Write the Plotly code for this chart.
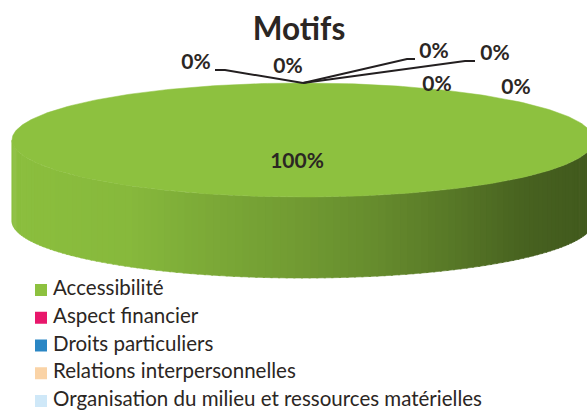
import numpy as np
import plotly.graph_objects as go

# ---- data -------------------------------------------------------------
categories = [
    "Accessibilité",
    "Aspect financier",
    "Droits particuliers",
    "Relations interpersonnelles",
    "Organisation du milieu et ressources matérielles",
    "Soins et services dispensés",
    "Autre",
]
values = [100, 0, 0, 0, 0, 0, 0]
colors = ["#8DC13F", "#E8176B", "#2A86C4", "#FAD3A6", "#CFE8F8", "#F4A53A", "#9B9B9B"]
title_text = "Motifs"

# ---- layout of the drawing (pixel-like data space) --------------------
W, H = 587, 413
CX, CY, RX, RY, DEPTH = 303, 140, 291, 57, 81

# label anchor positions (x, y) for each slice, and optional leader elbows
label_pos = [(297, 163), (196, 64), (288, 68), (434, 53), (495, 55), (437, 86), (516, 89)]
leader = {1: [(225, 70), (215, 70)], 3: [(407, 59), (415, 59)], 4: [(465, 61), (475, 61)]}

FONT = "Lato"
TXT = "#2B2623"


def ell(theta_deg, dy=0.0):
    t = np.radians(theta_deg)
    return CX + RX * np.sin(t), CY - RY * np.cos(t) + dy


def shade(c, f):
    c = c.lstrip("#")
    r, g, b = (int(c[i:i + 2], 16) for i in (0, 2, 4))
    return f"rgb({int(r * f)},{int(g * f)},{int(b * f)})"


# side shading along the horizontal direction (0 = left rim, 1 = right rim)
shade_stops = [(0.0, 0.99), (0.2, 0.96), (0.32, 0.89), (0.48, 0.81),
               (0.62, 0.73), (0.76, 0.62), (0.88, 0.51), (1.0, 0.46)]


def side_factor(u):
    xs, fs = zip(*shade_stops)
    return float(np.interp(u, xs, fs))


fig = go.Figure()

total = sum(values)
angles = np.cumsum([0] + [360 * v / total for v in values])

# side walls (front half only: 90..270 degrees, clockwise from 12 o'clock)
for i, c in enumerate(colors):
    a0, a1 = max(angles[i], 90), min(angles[i + 1], 270)
    if a1 <= a0:
        continue
    n = max(2, int((a1 - a0) / 1.5))
    edges = np.linspace(a0, a1, n + 1)
    for k in range(n):
        tt = np.linspace(edges[k], min(edges[k + 1] + 0.4, a1), 6)
        xt, yt = ell(tt)
        xb, yb = ell(tt[::-1], DEPTH)
        xm, _ = ell((edges[k] + edges[k + 1]) / 2)
        col = shade(c, side_factor((xm - (CX - RX)) / (2 * RX)))
        fig.add_trace(go.Scatter(
            x=np.r_[xt, xb], y=np.r_[yt, yb], mode="lines", fill="toself",
            fillcolor=col, line=dict(color=col, width=0.6),
            hoverinfo="skip", showlegend=False))

# top faces
for i, (name, c) in enumerate(zip(categories, colors)):
    if values[i] <= 0:
        continue
    tt = np.linspace(angles[i], angles[i + 1], 361)
    xt, yt = ell(tt)
    if values[i] < total:
        xt, yt = np.r_[CX, xt, CX], np.r_[CY, yt, CY]
    fig.add_trace(go.Scatter(
        x=xt, y=yt, mode="lines", fill="toself", fillcolor=c,
        line=dict(color=c, width=0.5), name=name, showlegend=False,
        hoverinfo="name"))

# leader lines from slice position on the rim to the labels
for i, pts in leader.items():
    mid = (angles[i] + angles[i + 1]) / 2
    ax, ay = ell(mid)
    xs = [ax] + [p[0] for p in pts]
    ys = [ay] + [p[1] for p in pts]
    fig.add_trace(go.Scatter(x=xs, y=ys, mode="lines",
                             line=dict(color="#231F20", width=2),
                             hoverinfo="skip", showlegend=False))

# percentage labels
pct = [f"{round(100 * v / total)}%" for v in values]
fig.add_trace(go.Scatter(
    x=[p[0] for p in label_pos], y=[p[1] for p in label_pos], mode="text",
    text=pct, textfont=dict(family=FONT, size=21, color=TXT, weight="bold"),
    hoverinfo="skip", showlegend=False))

# legend (only the entries that fit in the frame)
LX, LTX, LY0, LDY = 41, 53, 290, 27.75
n_leg = sum(1 for k in range(len(categories)) if LY0 + k * LDY < H)
ly = [LY0 + k * LDY for k in range(n_leg)]
fig.add_trace(go.Scatter(
    x=[LX] * n_leg, y=ly, mode="markers",
    marker=dict(symbol="square", size=12, color=colors[:n_leg]),
    hoverinfo="skip", showlegend=False))
fig.add_trace(go.Scatter(
    x=[LTX] * n_leg, y=ly, mode="text", text=categories[:n_leg],
    textposition="middle right",
    textfont=dict(family=FONT, size=20.5, color=TXT),
    hoverinfo="skip", showlegend=False, cliponaxis=False))

fig.update_layout(
    width=W, height=H, margin=dict(l=0, r=0, t=0, b=0),
    paper_bgcolor="white", plot_bgcolor="white",
    title=dict(text=f"<b>{title_text}</b>", x=299 / W, xanchor="center",
               y=1 - 29 / H, yanchor="middle", yref="container",
               font=dict(family=FONT, size=31.5, color=TXT)),
    xaxis=dict(range=[0, W], visible=False, fixedrange=True),
    yaxis=dict(range=[H, 0], visible=False, fixedrange=True),
    showlegend=False,
)

fig.write_html("out.html")
